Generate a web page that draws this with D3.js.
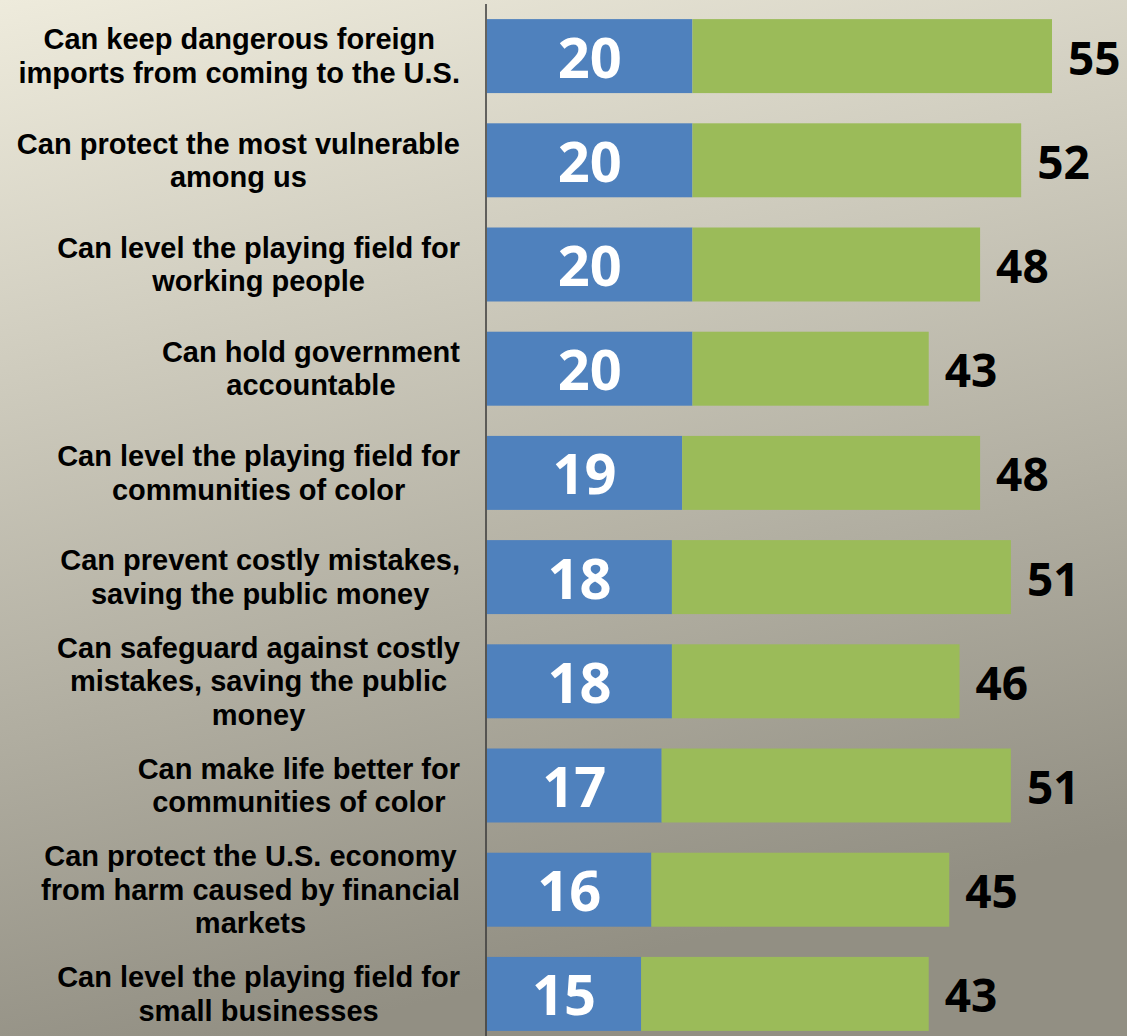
<!DOCTYPE html>
<html lang="en">
<head>
    <meta charset="UTF-8">
    <title>Stacked bars</title>
    <script src="https://d3js.org/d3.v7.min.js"></script>
    <style>
        body {
            margin: 0;
            overflow: hidden;
        }

        .label text {
            font-family: "Liberation Sans", Arial, sans-serif;
            font-weight: bold;
            font-size: 29px;
            fill: #000;
        }

        .num {
            font-family: "Open Sans", sans-serif;
            font-weight: 700;
        }

        .inner {
            font-size: 56px;
        }

        .total {
            font-size: 46px;
        }
    </style>
</head>
<body>
    <div id="chart"></div>

    <script>
        // Categories, each split into the lines shown in the picture
        const categories = [
            ["Can keep dangerous foreign", "imports from coming to the U.S."],
            ["Can protect the most vulnerable", "among us"],
            ["Can level the playing field for", "working people"],
            ["Can hold government", "accountable"],
            ["Can level the playing field for", "communities of color"],
            ["Can prevent costly mistakes,", "saving the public money"],
            ["Can safeguard against costly", "mistakes, saving the public", "money"],
            ["Can make life better for", "communities of color"],
            ["Can protect the U.S. economy", "from harm caused by financial", "markets"],
            ["Can level the playing field for", "small businesses"]
        ];
        const blueValues = [20, 20, 20, 20, 19, 18, 18, 17, 16, 15];
        const totalValues = [55, 52, 48, 43, 48, 51, 46, 51, 45, 43];

        const width = 1127;
        const height = 1036;
        const blue = "#4f81bd";
        const green = "#9bbb59";

        const svg = d3.select("#chart")
            .append("svg")
            .attr("width", width)
            .attr("height", height);

        // background gradient
        const grad = svg.append("defs").append("linearGradient")
            .attr("id", "bg")
            .attr("x1", 0).attr("y1", 0)
            .attr("x2", 0.25).attr("y2", 1);
        grad.append("stop").attr("offset", 0).attr("stop-color", "#eeebdc");
        grad.append("stop").attr("offset", 1).attr("stop-color", "#928f83");

        svg.append("rect")
            .attr("width", width)
            .attr("height", height)
            .attr("fill", "url(#bg)");

        const idx = d3.range(categories.length);

        const x = d3.scaleLinear()
            .domain([0, 55])
            .range([487, 1052]);

        const y = d3.scaleBand()
            .domain(idx)
            .range([4, 1046])
            .paddingInner(0.29)
            .paddingOuter(0.145);

        // blue segments
        svg.selectAll(".blue")
            .data(idx)
            .enter()
            .append("rect")
            .attr("class", "blue")
            .attr("x", x(0))
            .attr("y", i => y(i))
            .attr("width", i => x(blueValues[i]) - x(0))
            .attr("height", y.bandwidth())
            .attr("fill", blue);

        // green segments, ending at the total
        svg.selectAll(".green")
            .data(idx)
            .enter()
            .append("rect")
            .attr("class", "green")
            .attr("x", i => x(blueValues[i]))
            .attr("y", i => y(i))
            .attr("width", i => x(totalValues[i]) - x(blueValues[i]))
            .attr("height", y.bandwidth())
            .attr("fill", green);

        // axis line
        svg.append("line")
            .attr("x1", 486).attr("x2", 486)
            .attr("y1", 4).attr("y2", height)
            .attr("stroke", "#3a3a3a")
            .attr("stroke-width", 1.5);

        const mid = i => y(i) + y.bandwidth() / 2;

        // numbers inside the blue bars
        svg.selectAll(".inner")
            .data(idx)
            .enter()
            .append("text")
            .attr("class", "num inner")
            .attr("x", i => (x(0) + x(blueValues[i])) / 2)
            .attr("y", i => mid(i) + 21.5)
            .attr("text-anchor", "middle")
            .attr("fill", "#fff")
            .text(i => blueValues[i]);

        // totals to the right
        svg.selectAll(".total")
            .data(idx)
            .enter()
            .append("text")
            .attr("class", "num total")
            .attr("x", i => x(totalValues[i]) + 16)
            .attr("y", i => mid(i) + 18.5)
            .attr("fill", "#000")
            .text(i => totalValues[i]);

        // category labels: centred lines, block right-aligned at 460
        const lineH = 33.5;
        const labels = svg.selectAll(".label")
            .data(idx)
            .enter()
            .append("g")
            .attr("class", "label");

        labels.each(function(i) {
            const g = d3.select(this);
            const lines = categories[i];
            const texts = lines.map((t, k) => g.append("text")
                .attr("y", mid(i) + (k - (lines.length - 1) / 2) * lineH + 10)
                .attr("text-anchor", "middle")
                .text(t));
            const maxW = d3.max(texts, t => t.node().getComputedTextLength());
            texts.forEach(t => t.attr("x", 460 - maxW / 2));
        });
    </script>
</body>
</html>
